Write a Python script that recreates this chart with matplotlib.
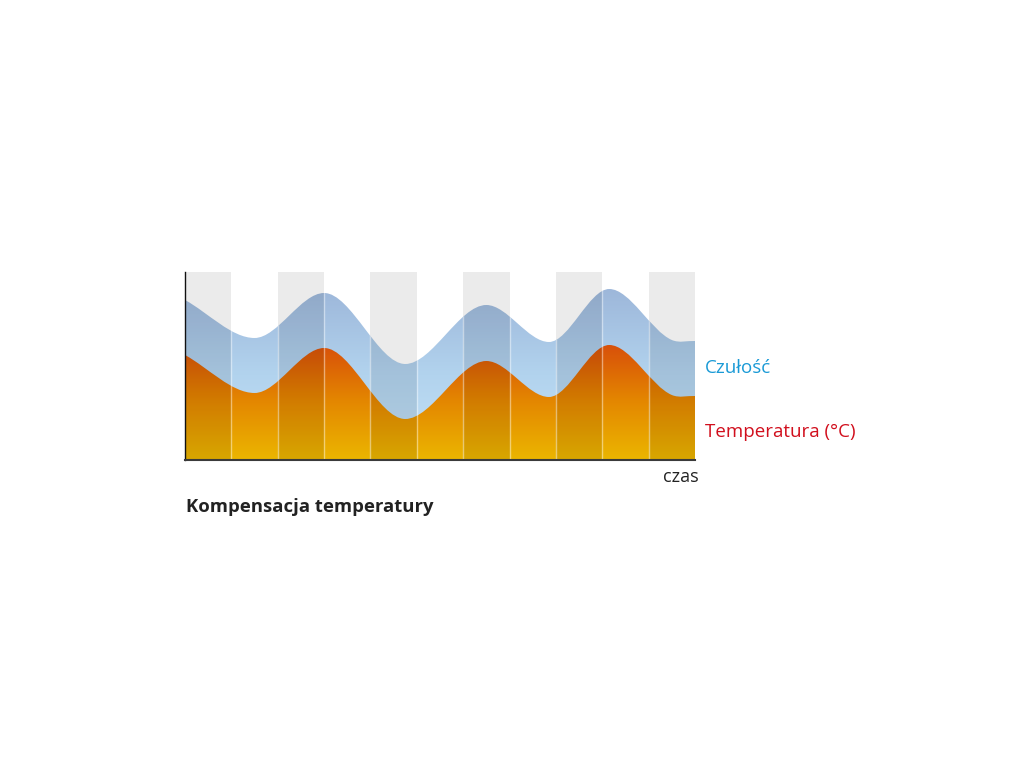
import numpy as np
import matplotlib
matplotlib.use("Agg")
import matplotlib.pyplot as plt
import matplotlib.colors as mcolors
from matplotlib.path import Path
from matplotlib.patches import PathPatch

plt.rcParams['font.family'] = ['Open Sans', 'DejaVu Sans']

# ── data (x in time columns, y in arbitrary units) ────────────────────────────
n_cols = 11
sens_x = [0, 1.5, 3.0, 4.75, 6.5, 7.85, 9.15, 10.5, 11.0]
sens_y = [160, 122, 167, 96, 155, 118, 171, 120, 119]

temp_x = [0, 1.5, 3.0, 4.75, 6.5, 7.85, 9.15, 10.5, 11.0]
temp_y = [105, 67, 112, 41, 99, 63, 115, 65, 64]

y_max = 188
label_sens = "Czułość"
label_temp = "Temperatura (°C)"
label_x = "czas"
title = "Kompensacja temperatury"


def smooth_path(xs, ys, bottom=0.0):
    """closed bezier path under a smooth curve, flat at the turning points"""
    xs = np.asarray(xs, float)
    ys = np.asarray(ys, float)
    d = np.diff(ys) / np.diff(xs)
    m = np.zeros_like(ys)
    m[0], m[-1] = d[0], d[-1]
    for i in range(1, len(ys) - 1):
        if d[i - 1] * d[i] <= 0:
            m[i] = 0
        else:
            m[i] = (d[i - 1] + d[i]) / 2
    verts = [(xs[0], bottom), (xs[0], ys[0])]
    codes = [Path.MOVETO, Path.LINETO]
    for i in range(len(xs) - 1):
        h = xs[i + 1] - xs[i]
        verts += [(xs[i] + h / 3, ys[i] + m[i] * h / 3),
                  (xs[i + 1] - h / 3, ys[i + 1] - m[i + 1] * h / 3),
                  (xs[i + 1], ys[i + 1])]
        codes += [Path.CURVE4] * 3
    verts += [(xs[-1], bottom), (xs[0], bottom)]
    codes += [Path.LINETO, Path.CLOSEPOLY]
    return Path(verts, codes)


def gradient_fill(ax, path, colors, top):
    patch = PathPatch(path, facecolor="none", edgecolor="none")
    ax.add_patch(patch)
    cmap = mcolors.LinearSegmentedColormap.from_list("g", colors)
    grad = np.linspace(0, 1, 256).reshape(-1, 1)
    im = ax.imshow(grad, cmap=cmap, origin="lower", aspect="auto",
                   extent=[0, n_cols, 0, top], zorder=2)
    im.set_clip_path(patch)


fig = plt.figure(figsize=(10.24, 7.68), dpi=100)
ax = fig.add_axes([185 / 1024, 1 - 460 / 768, 510 / 1024, 188 / 768])
ax.set_xlim(0, n_cols)
ax.set_ylim(0, y_max)

sens_path = smooth_path(sens_x, sens_y)
temp_path = smooth_path(temp_x, temp_y)

gradient_fill(ax, sens_path, ["#c4e2f6", "#b2d3ee", "#9db7da"], max(sens_y))
gradient_fill(ax, temp_path, ["#ebb600", "#e48800", "#d8500a"], max(temp_y))

# alternating grey stripes
for c in range(0, n_cols, 2):
    ax.axvspan(c, c + 1, color="black", alpha=0.078, lw=0, zorder=3)

# thin white column lines inside the filled area
clip = PathPatch(sens_path, facecolor="none", edgecolor="none")
ax.add_patch(clip)
for c in range(1, n_cols):
    ln = ax.axvline(c, color="white", lw=1, alpha=0.45, zorder=4)
    ln.set_clip_path(clip)

ax.set_xticks([])
ax.set_yticks([])
for s in ["top", "right"]:
    ax.spines[s].set_visible(False)
ax.spines["left"].set_color("#111111")
ax.spines["left"].set_linewidth(1.0)
ax.spines["bottom"].set_color("#3a3a3a")
ax.spines["bottom"].set_linewidth(1.5)
for s in ax.spines.values():
    s.set_zorder(5)

fig.text(705 / 1024, 1 - 368 / 768, label_sens, color="#1a9ad6",
         fontsize=13.5, va="center", ha="left")
fig.text(705 / 1024, 1 - 432 / 768, label_temp, color="#d10f1d",
         fontsize=13.5, va="center", ha="left")
fig.text(699 / 1024, 1 - 477 / 768, label_x, color="#222222",
         fontsize=13, va="center", ha="right")
fig.text(186 / 1024, 1 - 507 / 768, title, color="#222222",
         fontsize=13.3, fontweight="bold", va="center", ha="left")

fig.savefig("out.png", dpi=100)
